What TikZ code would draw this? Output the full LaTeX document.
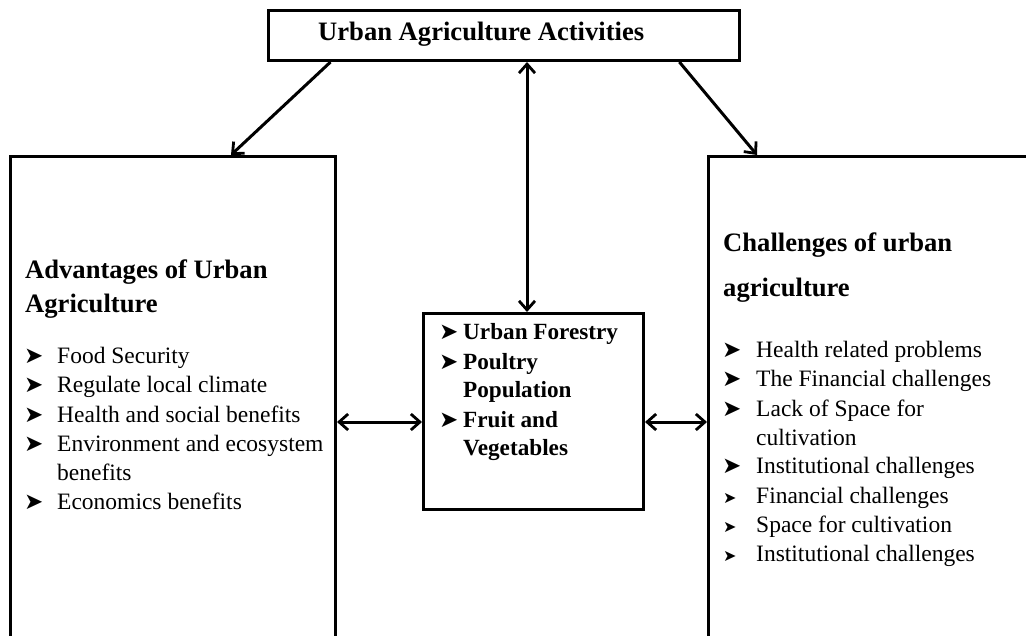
\documentclass[tikz,border=0pt]{standalone}
\usepackage{fontspec}
\setmainfont{Liberation Serif}
\newfontfamily\dingfont{DejaVu Sans}
\usetikzlibrary{arrows.meta,calc}
\begin{document}
\begin{tikzpicture}[x=1pt,y=-1pt,
  >={Straight Barb[length=9pt,width=16pt,line width=2.8pt]},
  box/.style={draw,line width=3pt,inner sep=0pt,anchor=north west},
  link/.style={line width=3pt},
  head/.style={anchor=base west,inner sep=0pt,font=\fontsize{26.6}{30}\selectfont\bfseries},
  item/.style={anchor=base west,inner sep=0pt,font=\fontsize{23.5}{26}\selectfont},
  mitem/.style={anchor=base west,inner sep=0pt,font=\fontsize{23.2}{26}\selectfont\bfseries},
  bul/.style={anchor=base west,inner sep=0pt,font=\dingfont\fontsize{23}{24}\selectfont},
  sbul/.style={anchor=base west,inner sep=0pt,font=\dingfont\fontsize{16}{18}\selectfont}]
\useasboundingbox (0,0) rectangle (1026,636);
\clip (0,0) rectangle (1026,636);

% boxes
\node[box,minimum width=471pt,minimum height=50pt] (top) at (267,9) {};
\node[box,minimum width=325pt,minimum height=520pt] (adv) at (9,155) {};
\node[box,minimum width=360pt,minimum height=520pt] (chal) at (707,155) {};
\node[box,minimum width=220pt,minimum height=196pt] (mid) at (422,312) {};

% connectors
\coordinate (vx) at (527,0);
\coordinate (hy) at (0,422);
\draw[link,->] ($(top.south west)!0.134!(top.south east)$) -- ($(adv.north west)+(222,0)$);
\draw[link,->] ($(top.south west)!0.870!(top.south east)$) -- ($(chal.north west)+(50,0)$);
\draw[link,<->] (top.south -| vx) -- (mid.north -| vx);
\draw[link,<->] (adv.east |- hy) -- (mid.west |- hy);
\draw[link,<->] (mid.east |- hy) -- (chal.west |- hy);

% title
\node[head] (title) at (318,41) {Urban Agriculture Activities};

% advantages
\node[head] (advh1) at (25,279) {Advantages of Urban};
\node[head] (advh2) at (25,313) {Agriculture};
\node[bul] (ab1) at (24,363) {➤};
\node[item] (at1) at (57,363) {Food Security};
\node[bul] (ab2) at (24,392) {➤};
\node[item] (at2) at (57,392) {Regulate local climate};
\node[bul] (ab3) at (24,422) {➤};
\node[item] (at3) at (57,422) {Health and social benefits};
\node[bul] (ab4) at (24,451) {➤};
\node[item] (at4) at (57,451) {Environment and ecosystem};
\node[item] (at4b) at (57,480) {benefits};
\node[bul] (ab5) at (24,509) {➤};
\node[item] (at5) at (57,509) {Economics benefits};

% activities
\node[bul] (mb1) at (439,340) {➤};
\node[mitem] (mt1) at (463,340) {Urban Forestry};
\node[bul] (mb2) at (439,370) {➤};
\node[mitem] (mt2) at (463,370) {Poultry};
\node[mitem] (mt2b) at (463,398) {Population};
\node[bul] (mb3) at (439,428) {➤};
\node[mitem] (mt3) at (463,428) {Fruit and};
\node[mitem] (mt3b) at (463,455) {Vegetables};

% challenges
\node[head] (chh1) at (723,252) {Challenges of urban};
\node[head] (chh2) at (723,297) {agriculture};
\node[bul] (cb1) at (722,358) {➤};
\node[item] (ct1) at (756,358) {Health related problems};
\node[bul] (cb2) at (722,387) {➤};
\node[item] (ct2) at (756,387) {The Financial challenges};
\node[bul] (cb3) at (722,417) {➤};
\node[item] (ct3) at (756,417) {Lack of Space for};
\node[item] (ct3b) at (756,445) {cultivation};
\node[bul] (cb4) at (722,473) {➤};
\node[item] (ct4) at (756,473) {Institutional challenges};
\node[sbul] (cb5) at (723,503) {➤};
\node[item] (ct5) at (756,503) {Financial challenges};
\node[sbul] (cb6) at (723,532) {➤};
\node[item] (ct6) at (756,532) {Space for cultivation};
\node[sbul] (cb7) at (723,561) {➤};
\node[item] (ct7) at (756,561) {Institutional challenges};
\end{tikzpicture}
\end{document}
